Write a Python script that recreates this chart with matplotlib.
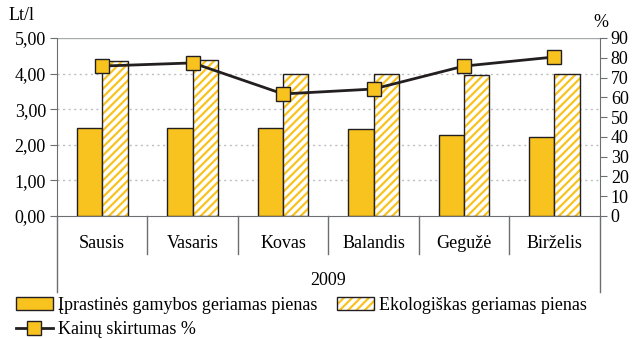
import numpy as np
import matplotlib
matplotlib.use("Agg")
import matplotlib.pyplot as plt
from matplotlib.patches import Patch
from matplotlib.lines import Line2D
from matplotlib.legend_handler import HandlerTuple

plt.rcParams['font.family'] = ['Liberation Serif', 'DejaVu Serif']
plt.rcParams['font.size'] = 13
plt.rcParams['hatch.linewidth'] = 1.6

# duomenys
menesiai = ['Sausis', 'Vasaris', 'Kovas', 'Balandis', 'Gegužė', 'Birželis']
iprastinis = [2.47, 2.47, 2.47, 2.43, 2.27, 2.22]
ekologiskas = [4.34, 4.38, 3.99, 4.00, 3.95, 3.99]
skirtumas = [75.8, 77.4, 61.7, 64.2, 75.8, 80.4]

geltona = '#f9c31f'
tamsi = '#231f20'
pilka = '#6d6e71'

fig = plt.figure(figsize=(6.32, 3.38), dpi=100)
ax = fig.add_axes([0.0902, 0.361, 0.8587, 0.5266])

x = np.arange(len(menesiai))
w = 0.28
ax.bar(x - w / 2, iprastinis, w, color=geltona, edgecolor=tamsi, linewidth=1.0, zorder=3)
# dryžuoti stulpeliai: geltoni brūkšniai, tamsus kraštas atskirai
ax.bar(x + w / 2, ekologiskas, w, color='white', edgecolor=geltona, hatch='////', linewidth=0, zorder=3)
ax.bar(x + w / 2, ekologiskas, w, color='none', edgecolor=tamsi, linewidth=1.0, zorder=4)

ax.set_xlim(-0.5, len(menesiai) - 0.5)
ax.set_ylim(0, 5)
ax.set_yticks(np.arange(0, 5.01, 1))
ax.yaxis.set_major_formatter(plt.FuncFormatter(lambda v, p: ('%.2f' % v).replace('.', ',')))
for v in [1, 2, 3, 4]:
    ax.axhline(v, color='#bcbec0', linestyle=(0, (1.5, 2.5)), linewidth=1.0, zorder=1)
ax.axhline(5, color='#a7a9ac', linewidth=1.0, zorder=1)

for s in ['top', 'right']:
    ax.spines[s].set_visible(False)
ax.spines['left'].set_color(pilka)
ax.spines['bottom'].set_color(pilka)
ax.tick_params(axis='y', direction='out', length=5, color=pilka, pad=3)
ax.set_xticks([])

# mėnesių pavadinimai ir skirtukai po ašimi
for i, m in enumerate(menesiai):
    ax.text(i, -0.78, m, ha='center', va='center')
for i in range(1, len(menesiai)):
    ax.plot([i - 0.5, i - 0.5], [0, -1.08], color=pilka, linewidth=1.0, clip_on=False)
for xe in [-0.5, len(menesiai) - 0.5]:
    ax.plot([xe, xe], [0, -2.14], color=pilka, linewidth=1.0, clip_on=False)
ax.text((len(menesiai) - 1) / 2, -1.82, '2009', ha='center', va='center')

ax2 = ax.twinx()
ax2.plot(x, skirtumas, color=tamsi, linewidth=2.0, marker='s', markersize=10,
         markerfacecolor=geltona, markeredgecolor=tamsi, markeredgewidth=1.0, zorder=5)
ax2.set_ylim(0, 90)
ax2.set_yticks(np.arange(0, 91, 10))
for s in ['top', 'left', 'bottom']:
    ax2.spines[s].set_visible(False)
ax2.spines['right'].set_color(pilka)
ax2.tick_params(axis='y', direction='out', length=5, color=pilka, pad=3)

fig.text(0.013, 0.955, 'Lt/l', ha='left', va='center')
fig.text(0.950, 0.932, '%', ha='center', va='center')

h1 = Patch(facecolor=geltona, edgecolor=tamsi, linewidth=1.0)
h2 = (Patch(facecolor='white', edgecolor=geltona, hatch='////', linewidth=0),
      Patch(facecolor='none', edgecolor=tamsi, linewidth=1.0))
h3 = Line2D([], [], color=tamsi, linewidth=2.0, marker='s', markersize=10,
            markerfacecolor=geltona, markeredgecolor=tamsi, markeredgewidth=1.0)
fig.legend([h1, h3, h2],
           ['Įprastinės gamybos geriamas pienas', 'Kainų skirtumas %', 'Ekologiškas geriamas pienas'],
           handler_map={tuple: HandlerTuple(ndivide=1, pad=0)},
           loc='upper left', bbox_to_anchor=(0.025, 0.122), ncol=2, frameon=False,
           handlelength=2.05, handleheight=0.75, handletextpad=0.3, columnspacing=1.05,
           labelspacing=0.4, borderpad=0, borderaxespad=0)

fig.savefig('out.png', dpi=100)
